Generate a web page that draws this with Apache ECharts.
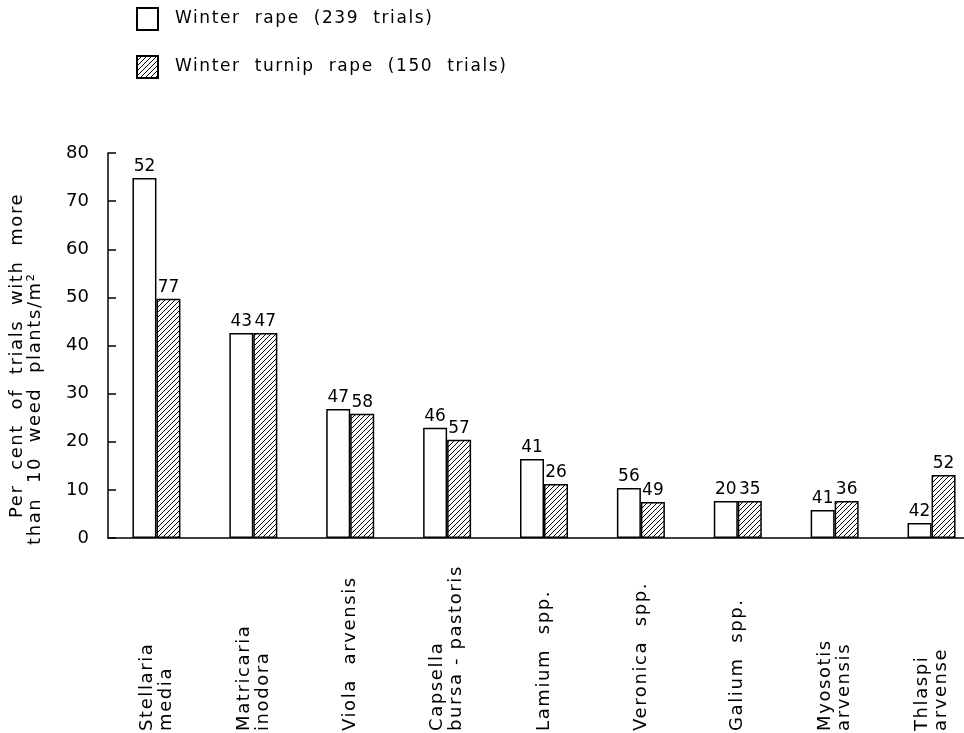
<!DOCTYPE html>
<html>
<head>
<meta charset="utf-8">
<script src="https://cdn.jsdelivr.net/npm/echarts@6/dist/echarts.min.js"></script>
<style>html,body{margin:0;padding:0;background:#fff}#c{width:964px;height:733px}</style>
</head>
<body>
<div id="c"></div>
<script>
var categories = ['Stellaria\nmedia', 'Matricaria\ninodora', 'Viola  arvensis', 'Capsella\nbursa - pastoris', 'Lamium  spp.', 'Veronica  spp.', 'Galium  spp.', 'Myosotis\narvensis', 'Thlaspi\narvense'];
var winterRape = [74.8, 42.6, 26.8, 22.9, 16.4, 10.4, 7.7, 5.8, 3.1];
var winterTurnipRape = [49.7, 42.6, 25.8, 20.4, 11.2, 7.5, 7.7, 7.7, 13.1];
var winterRapeCounts = [52, 43, 47, 46, 41, 56, 20, 41, 42];
var winterTurnipRapeCounts = [77, 47, 58, 57, 26, 49, 35, 36, 52];
var yTicks = [0, 10, 20, 30, 40, 50, 60, 70, 80];
var seriesNames = ['Winter  rape  (239  trials)', 'Winter  turnip  rape  (150  trials)'];
var yTitleLines = ['Per  cent  of  trials  with  more', 'than  10  weed  plants/m²'];

// widen the letter spacing of worded text (the original uses spaced technical lettering)
(function () {
  var P = CanvasRenderingContext2D.prototype;
  var of = P.fillText, om = P.measureText;
  function ls(t) { return /[A-Za-z]/.test(String(t)) ? '1.6px' : '0px'; }
  P.fillText = function (t) { try { this.letterSpacing = ls(t); } catch (e) {} return of.apply(this, arguments); };
  P.measureText = function (t) { try { this.letterSpacing = ls(t); } catch (e) {} return om.apply(this, arguments); };
})();

var FONT = 'DejaVu Sans';
var pc = document.createElement('canvas');
pc.width = 5; pc.height = 5;
var g = pc.getContext('2d');
g.fillStyle = '#fff'; g.fillRect(0, 0, 5, 5);
g.strokeStyle = '#000'; g.lineWidth = 1;
g.beginPath();
g.moveTo(-1, 6); g.lineTo(6, -1);
g.moveTo(-1, 1); g.lineTo(1, -1);
g.moveTo(4, 6); g.lineTo(6, 4);
g.stroke();
var hatch = { image: pc, repeat: 'repeat' };

var chart = echarts.init(document.getElementById('c'));
chart.setOption({
  animation: false,
  backgroundColor: '#fff',
  textStyle: { fontFamily: FONT, color: '#000' },
  legend: {
    orient: 'vertical', left: 131, top: 2, icon: 'rect',
    itemWidth: 21, itemHeight: 22, itemGap: 24,
    textStyle: { fontFamily: FONT, fontSize: 17, color: '#000', padding: [0, 0, 0, 12] },
    data: seriesNames
  },
  grid: { left: 108, top: 153, bottom: 195, width: 872, outerBoundsMode: 'none', containLabel: false },
  xAxis: {
    type: 'category', data: categories,
    axisLine: { lineStyle: { color: '#000', width: 1.5 } },
    axisTick: { show: false },
    axisLabel: {
      interval: 0, rotate: 90, align: 'left', verticalAlign: 'middle', margin: 193,
      fontFamily: FONT, fontSize: 18, color: '#000', lineHeight: 19, padding: [0, 0, 0, 0]
    }
  },
  yAxis: {
    type: 'value', min: 0, max: 80, interval: 10,
    splitLine: { show: false },
    axisLine: { show: true, lineStyle: { color: '#000', width: 1.5 } },
    axisTick: { show: true, inside: true, length: 8, lineStyle: { color: '#000', width: 1.5 } },
    axisLabel: {
      margin: 19, fontFamily: FONT, fontSize: 18, color: '#000',
      formatter: function (v) { return yTicks.indexOf(v) >= 0 ? String(v) : ''; }
    }
  },
  graphic: [
    { type: 'text', x: 17, y: 518, rotation: Math.PI / 2,
      style: { text: yTitleLines[0], fontFamily: FONT, fontSize: 18, fill: '#000', textAlign: 'left', textVerticalAlign: 'middle' } },
    { type: 'text', x: 35, y: 545, rotation: Math.PI / 2,
      style: { text: yTitleLines[1], fontFamily: FONT, fontSize: 18, fill: '#000', textAlign: 'left', textVerticalAlign: 'middle' } }
  ],
  series: [
    {
      name: seriesNames[0], type: 'bar', data: winterRape,
      barWidth: 24, barGap: '0%',
      itemStyle: { color: '#fff', borderColor: '#000', borderWidth: 1.5 },
      label: { show: true, position: 'top', distance: 3, fontFamily: FONT, fontSize: 17, color: '#000',
        formatter: function (p) { return winterRapeCounts[p.dataIndex]; } }
    },
    {
      name: seriesNames[1], type: 'bar', data: winterTurnipRape,
      barWidth: 24, barGap: '0%',
      itemStyle: { color: hatch, borderColor: '#000', borderWidth: 1.5 },
      label: { show: true, position: 'top', distance: 3, fontFamily: FONT, fontSize: 17, color: '#000',
        formatter: function (p) { return winterTurnipRapeCounts[p.dataIndex]; } }
    }
  ]
});
</script>
</body>
</html>
